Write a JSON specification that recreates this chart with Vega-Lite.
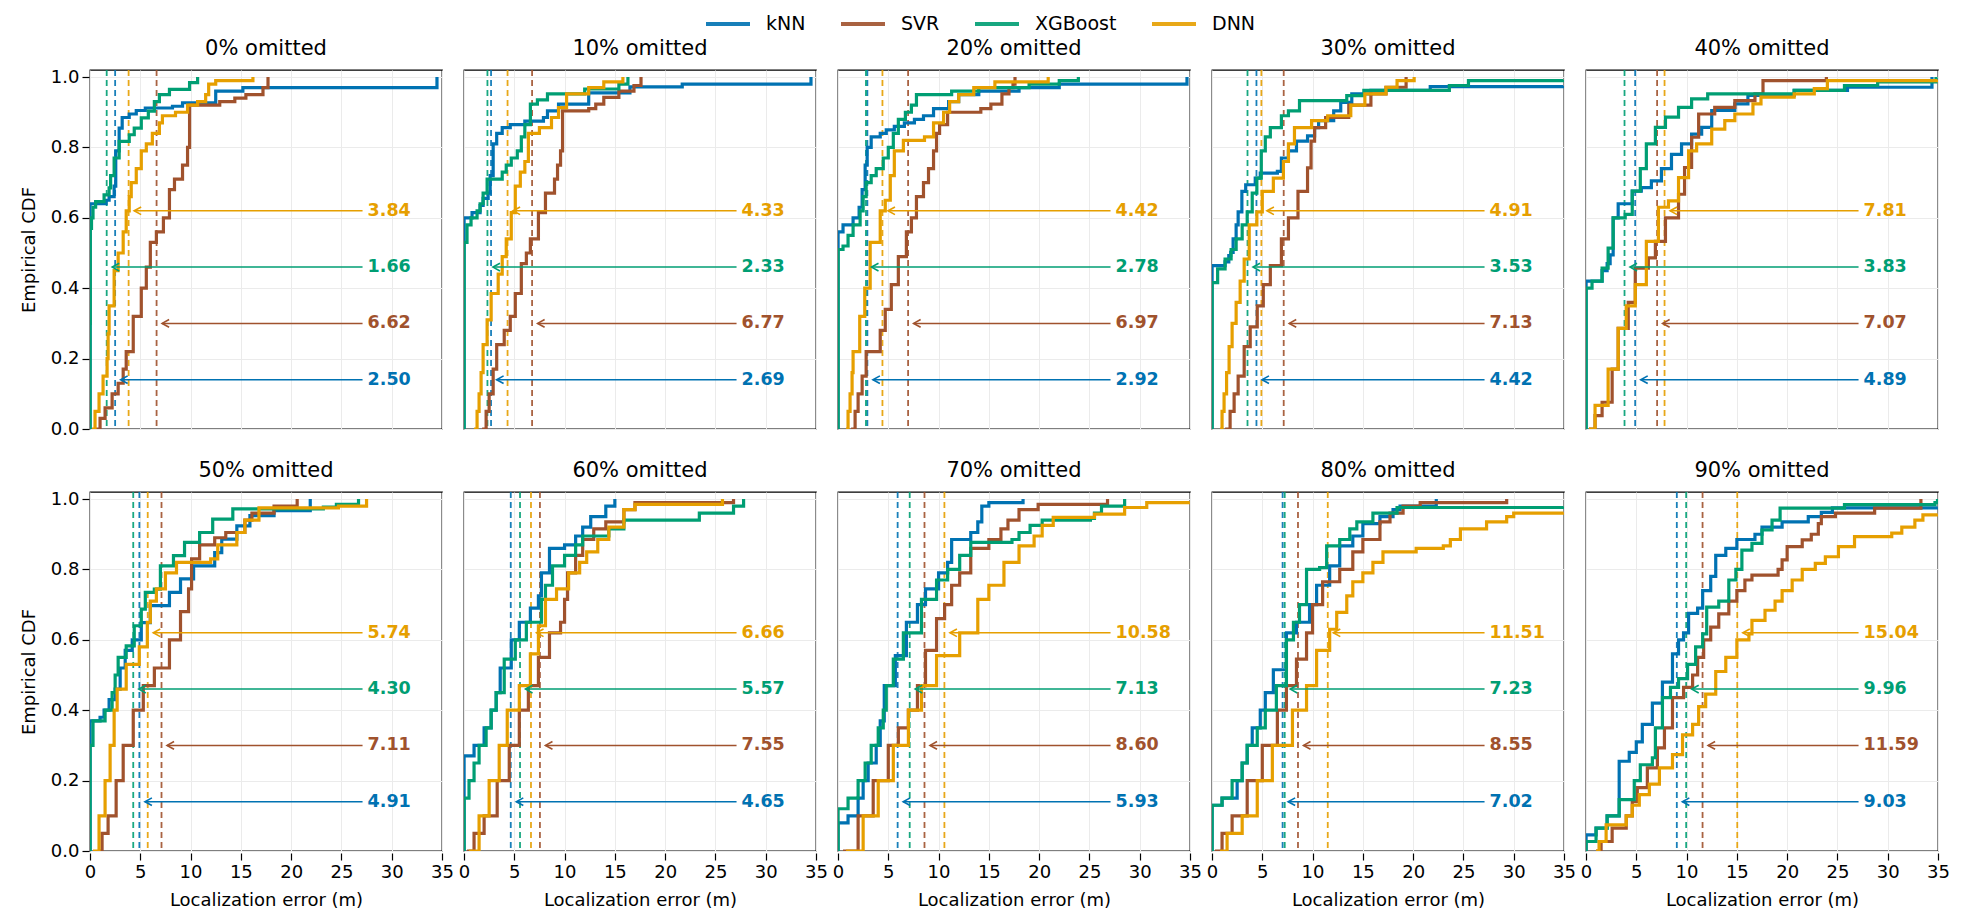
{
  "$schema": "https://vega.github.io/schema/vega-lite/v6.json",
  "padding": {"left": 20, "top": 0, "right": 10, "bottom": 10},
  "data": {
    "values": [
      {"pct":0,"model":"kNN","err":0,"cdf":0},{"pct":0,"model":"kNN","err":0.01,"cdf":0.64},{"pct":0,"model":"kNN","err":1.6,"cdf":0.65},{"pct":0,"model":"kNN","err":1.9,"cdf":0.66},{"pct":0,"model":"kNN","err":2.4,"cdf":0.69},{"pct":0,"model":"kNN","err":2.56,"cdf":0.79},{"pct":0,"model":"kNN","err":2.9,"cdf":0.855},{"pct":0,"model":"kNN","err":3.2,"cdf":0.885},{"pct":0,"model":"kNN","err":3.9,"cdf":0.895},{"pct":0,"model":"kNN","err":4.6,"cdf":0.905},{"pct":0,"model":"kNN","err":5.5,"cdf":0.912},{"pct":0,"model":"kNN","err":8.2,"cdf":0.917},{"pct":0,"model":"kNN","err":9.2,"cdf":0.927},{"pct":0,"model":"kNN","err":12.5,"cdf":0.96},{"pct":0,"model":"kNN","err":15.2,"cdf":0.97},{"pct":0,"model":"kNN","err":34.5,"cdf":1},
      {"pct":0,"model":"SVR","err":0.4,"cdf":0},{"pct":0,"model":"SVR","err":1,"cdf":0.03},{"pct":0,"model":"SVR","err":1.5,"cdf":0.06},{"pct":0,"model":"SVR","err":2.2,"cdf":0.1},{"pct":0,"model":"SVR","err":2.8,"cdf":0.13},{"pct":0,"model":"SVR","err":3.3,"cdf":0.17},{"pct":0,"model":"SVR","err":3.6,"cdf":0.22},{"pct":0,"model":"SVR","err":4.3,"cdf":0.32},{"pct":0,"model":"SVR","err":5.1,"cdf":0.4},{"pct":0,"model":"SVR","err":5.6,"cdf":0.46},{"pct":0,"model":"SVR","err":6,"cdf":0.53},{"pct":0,"model":"SVR","err":6.6,"cdf":0.56},{"pct":0,"model":"SVR","err":7.3,"cdf":0.6},{"pct":0,"model":"SVR","err":7.9,"cdf":0.68},{"pct":0,"model":"SVR","err":8.4,"cdf":0.71},{"pct":0,"model":"SVR","err":9.2,"cdf":0.75},{"pct":0,"model":"SVR","err":9.7,"cdf":0.8},{"pct":0,"model":"SVR","err":9.9,"cdf":0.92},{"pct":0,"model":"SVR","err":12.9,"cdf":0.93},{"pct":0,"model":"SVR","err":14.4,"cdf":0.94},{"pct":0,"model":"SVR","err":15.5,"cdf":0.95},{"pct":0,"model":"SVR","err":17.2,"cdf":0.97},{"pct":0,"model":"SVR","err":17.7,"cdf":1},
      {"pct":0,"model":"XGBoost","err":0,"cdf":0},{"pct":0,"model":"XGBoost","err":0.01,"cdf":0.3},{"pct":0,"model":"XGBoost","err":0.03,"cdf":0.57},{"pct":0,"model":"XGBoost","err":0.15,"cdf":0.6},{"pct":0,"model":"XGBoost","err":0.3,"cdf":0.63},{"pct":0,"model":"XGBoost","err":0.56,"cdf":0.646},{"pct":0,"model":"XGBoost","err":1.4,"cdf":0.665},{"pct":0,"model":"XGBoost","err":1.9,"cdf":0.685},{"pct":0,"model":"XGBoost","err":2.05,"cdf":0.72},{"pct":0,"model":"XGBoost","err":2.4,"cdf":0.77},{"pct":0,"model":"XGBoost","err":2.9,"cdf":0.817},{"pct":0,"model":"XGBoost","err":3.9,"cdf":0.836},{"pct":0,"model":"XGBoost","err":4.4,"cdf":0.855},{"pct":0,"model":"XGBoost","err":5.1,"cdf":0.884},{"pct":0,"model":"XGBoost","err":5.8,"cdf":0.903},{"pct":0,"model":"XGBoost","err":6.4,"cdf":0.93},{"pct":0,"model":"XGBoost","err":6.9,"cdf":0.95},{"pct":0,"model":"XGBoost","err":7.9,"cdf":0.965},{"pct":0,"model":"XGBoost","err":9.9,"cdf":0.984},{"pct":0,"model":"XGBoost","err":10.7,"cdf":1},
      {"pct":0,"model":"DNN","err":0.2,"cdf":0},{"pct":0,"model":"DNN","err":0.5,"cdf":0.05},{"pct":0,"model":"DNN","err":0.9,"cdf":0.1},{"pct":0,"model":"DNN","err":1.3,"cdf":0.15},{"pct":0,"model":"DNN","err":1.7,"cdf":0.2},{"pct":0,"model":"DNN","err":1.8,"cdf":0.27},{"pct":0,"model":"DNN","err":1.9,"cdf":0.35},{"pct":0,"model":"DNN","err":2.4,"cdf":0.45},{"pct":0,"model":"DNN","err":2.8,"cdf":0.5},{"pct":0,"model":"DNN","err":3.3,"cdf":0.56},{"pct":0,"model":"DNN","err":3.6,"cdf":0.62},{"pct":0,"model":"DNN","err":3.9,"cdf":0.66},{"pct":0,"model":"DNN","err":4.1,"cdf":0.7},{"pct":0,"model":"DNN","err":4.6,"cdf":0.74},{"pct":0,"model":"DNN","err":5.1,"cdf":0.79},{"pct":0,"model":"DNN","err":5.6,"cdf":0.81},{"pct":0,"model":"DNN","err":6.2,"cdf":0.84},{"pct":0,"model":"DNN","err":6.9,"cdf":0.87},{"pct":0,"model":"DNN","err":7.2,"cdf":0.89},{"pct":0,"model":"DNN","err":8.5,"cdf":0.9},{"pct":0,"model":"DNN","err":9.7,"cdf":0.92},{"pct":0,"model":"DNN","err":10.7,"cdf":0.93},{"pct":0,"model":"DNN","err":11.5,"cdf":0.95},{"pct":0,"model":"DNN","err":11.8,"cdf":0.98},{"pct":0,"model":"DNN","err":12.5,"cdf":0.99},{"pct":0,"model":"DNN","err":16.2,"cdf":1},

      {"pct":10,"model":"kNN","err":0,"cdf":0},{"pct":10,"model":"kNN","err":0.01,"cdf":0.6},{"pct":10,"model":"kNN","err":0.8,"cdf":0.615},{"pct":10,"model":"kNN","err":1.6,"cdf":0.635},{"pct":10,"model":"kNN","err":1.9,"cdf":0.655},{"pct":10,"model":"kNN","err":2.4,"cdf":0.67},{"pct":10,"model":"kNN","err":2.6,"cdf":0.72},{"pct":10,"model":"kNN","err":2.9,"cdf":0.81},{"pct":10,"model":"kNN","err":3.25,"cdf":0.84},{"pct":10,"model":"kNN","err":3.8,"cdf":0.856},{"pct":10,"model":"kNN","err":4.6,"cdf":0.865},{"pct":10,"model":"kNN","err":6.05,"cdf":0.875},{"pct":10,"model":"kNN","err":7.9,"cdf":0.885},{"pct":10,"model":"kNN","err":8.3,"cdf":0.904},{"pct":10,"model":"kNN","err":9.4,"cdf":0.923},{"pct":10,"model":"kNN","err":12.4,"cdf":0.955},{"pct":10,"model":"kNN","err":16.5,"cdf":0.972},{"pct":10,"model":"kNN","err":21.7,"cdf":0.98},{"pct":10,"model":"kNN","err":34.5,"cdf":1},
      {"pct":10,"model":"SVR","err":1.8,"cdf":0},{"pct":10,"model":"SVR","err":2.2,"cdf":0.05},{"pct":10,"model":"SVR","err":2.5,"cdf":0.1},{"pct":10,"model":"SVR","err":2.9,"cdf":0.17},{"pct":10,"model":"SVR","err":3.25,"cdf":0.24},{"pct":10,"model":"SVR","err":4,"cdf":0.28},{"pct":10,"model":"SVR","err":4.6,"cdf":0.32},{"pct":10,"model":"SVR","err":5.1,"cdf":0.385},{"pct":10,"model":"SVR","err":5.7,"cdf":0.47},{"pct":10,"model":"SVR","err":6.2,"cdf":0.5},{"pct":10,"model":"SVR","err":6.6,"cdf":0.54},{"pct":10,"model":"SVR","err":7.4,"cdf":0.615},{"pct":10,"model":"SVR","err":8.1,"cdf":0.67},{"pct":10,"model":"SVR","err":9,"cdf":0.71},{"pct":10,"model":"SVR","err":9.3,"cdf":0.75},{"pct":10,"model":"SVR","err":9.6,"cdf":0.79},{"pct":10,"model":"SVR","err":9.8,"cdf":0.904},{"pct":10,"model":"SVR","err":12.4,"cdf":0.91},{"pct":10,"model":"SVR","err":13.1,"cdf":0.923},{"pct":10,"model":"SVR","err":13.9,"cdf":0.942},{"pct":10,"model":"SVR","err":15.4,"cdf":0.96},{"pct":10,"model":"SVR","err":16.9,"cdf":0.976},{"pct":10,"model":"SVR","err":17.6,"cdf":1},
      {"pct":10,"model":"XGBoost","err":0,"cdf":0},{"pct":10,"model":"XGBoost","err":0.01,"cdf":0.53},{"pct":10,"model":"XGBoost","err":0.3,"cdf":0.58},{"pct":10,"model":"XGBoost","err":0.7,"cdf":0.6},{"pct":10,"model":"XGBoost","err":1.3,"cdf":0.62},{"pct":10,"model":"XGBoost","err":1.6,"cdf":0.64},{"pct":10,"model":"XGBoost","err":1.9,"cdf":0.67},{"pct":10,"model":"XGBoost","err":2.3,"cdf":0.71},{"pct":10,"model":"XGBoost","err":3.8,"cdf":0.73},{"pct":10,"model":"XGBoost","err":4.2,"cdf":0.75},{"pct":10,"model":"XGBoost","err":4.7,"cdf":0.77},{"pct":10,"model":"XGBoost","err":5.3,"cdf":0.79},{"pct":10,"model":"XGBoost","err":5.7,"cdf":0.83},{"pct":10,"model":"XGBoost","err":6.05,"cdf":0.865},{"pct":10,"model":"XGBoost","err":6.6,"cdf":0.923},{"pct":10,"model":"XGBoost","err":7.3,"cdf":0.935},{"pct":10,"model":"XGBoost","err":8.3,"cdf":0.952},{"pct":10,"model":"XGBoost","err":12,"cdf":0.966},{"pct":10,"model":"XGBoost","err":15.4,"cdf":0.98},{"pct":10,"model":"XGBoost","err":16.3,"cdf":1},
      {"pct":10,"model":"DNN","err":1,"cdf":0},{"pct":10,"model":"DNN","err":1.3,"cdf":0.05},{"pct":10,"model":"DNN","err":1.5,"cdf":0.1},{"pct":10,"model":"DNN","err":1.7,"cdf":0.16},{"pct":10,"model":"DNN","err":1.9,"cdf":0.24},{"pct":10,"model":"DNN","err":2.3,"cdf":0.31},{"pct":10,"model":"DNN","err":2.7,"cdf":0.385},{"pct":10,"model":"DNN","err":3.4,"cdf":0.44},{"pct":10,"model":"DNN","err":3.8,"cdf":0.49},{"pct":10,"model":"DNN","err":4.2,"cdf":0.54},{"pct":10,"model":"DNN","err":4.7,"cdf":0.615},{"pct":10,"model":"DNN","err":5.1,"cdf":0.69},{"pct":10,"model":"DNN","err":5.6,"cdf":0.73},{"pct":10,"model":"DNN","err":6.05,"cdf":0.76},{"pct":10,"model":"DNN","err":6.4,"cdf":0.84},{"pct":10,"model":"DNN","err":7.5,"cdf":0.856},{"pct":10,"model":"DNN","err":8.7,"cdf":0.885},{"pct":10,"model":"DNN","err":9.4,"cdf":0.913},{"pct":10,"model":"DNN","err":10.2,"cdf":0.952},{"pct":10,"model":"DNN","err":12.4,"cdf":0.97},{"pct":10,"model":"DNN","err":13.9,"cdf":0.986},{"pct":10,"model":"DNN","err":15.8,"cdf":1},

      {"pct":20,"model":"kNN","err":0,"cdf":0},{"pct":20,"model":"kNN","err":0.01,"cdf":0.56},{"pct":20,"model":"kNN","err":0.5,"cdf":0.58},{"pct":20,"model":"kNN","err":1.5,"cdf":0.6},{"pct":20,"model":"kNN","err":2.1,"cdf":0.63},{"pct":20,"model":"kNN","err":2.4,"cdf":0.68},{"pct":20,"model":"kNN","err":2.7,"cdf":0.75},{"pct":20,"model":"kNN","err":2.9,"cdf":0.8},{"pct":20,"model":"kNN","err":3.3,"cdf":0.83},{"pct":20,"model":"kNN","err":4.2,"cdf":0.84},{"pct":20,"model":"kNN","err":4.8,"cdf":0.85},{"pct":20,"model":"kNN","err":5.6,"cdf":0.86},{"pct":20,"model":"kNN","err":6.6,"cdf":0.87},{"pct":20,"model":"kNN","err":7.6,"cdf":0.88},{"pct":20,"model":"kNN","err":8.5,"cdf":0.89},{"pct":20,"model":"kNN","err":9.5,"cdf":0.91},{"pct":20,"model":"kNN","err":11,"cdf":0.93},{"pct":20,"model":"kNN","err":12,"cdf":0.95},{"pct":20,"model":"kNN","err":14,"cdf":0.96},{"pct":20,"model":"kNN","err":18,"cdf":0.97},{"pct":20,"model":"kNN","err":22,"cdf":0.98},{"pct":20,"model":"kNN","err":34.7,"cdf":1},
      {"pct":20,"model":"SVR","err":1.3,"cdf":0},{"pct":20,"model":"SVR","err":1.7,"cdf":0.05},{"pct":20,"model":"SVR","err":2,"cdf":0.1},{"pct":20,"model":"SVR","err":2.4,"cdf":0.15},{"pct":20,"model":"SVR","err":2.8,"cdf":0.22},{"pct":20,"model":"SVR","err":4.2,"cdf":0.28},{"pct":20,"model":"SVR","err":4.7,"cdf":0.34},{"pct":20,"model":"SVR","err":5.3,"cdf":0.41},{"pct":20,"model":"SVR","err":6,"cdf":0.49},{"pct":20,"model":"SVR","err":6.8,"cdf":0.56},{"pct":20,"model":"SVR","err":7.3,"cdf":0.6},{"pct":20,"model":"SVR","err":7.8,"cdf":0.66},{"pct":20,"model":"SVR","err":8.5,"cdf":0.7},{"pct":20,"model":"SVR","err":9,"cdf":0.74},{"pct":20,"model":"SVR","err":9.5,"cdf":0.79},{"pct":20,"model":"SVR","err":9.8,"cdf":0.84},{"pct":20,"model":"SVR","err":10.1,"cdf":0.865},{"pct":20,"model":"SVR","err":10.9,"cdf":0.9},{"pct":20,"model":"SVR","err":14.2,"cdf":0.91},{"pct":20,"model":"SVR","err":15.2,"cdf":0.923},{"pct":20,"model":"SVR","err":16.3,"cdf":0.952},{"pct":20,"model":"SVR","err":17,"cdf":0.97},{"pct":20,"model":"SVR","err":17.4,"cdf":0.98},{"pct":20,"model":"SVR","err":17.6,"cdf":1},
      {"pct":20,"model":"XGBoost","err":0,"cdf":0},{"pct":20,"model":"XGBoost","err":0.01,"cdf":0.51},{"pct":20,"model":"XGBoost","err":0.5,"cdf":0.52},{"pct":20,"model":"XGBoost","err":1,"cdf":0.55},{"pct":20,"model":"XGBoost","err":1.5,"cdf":0.58},{"pct":20,"model":"XGBoost","err":2.2,"cdf":0.62},{"pct":20,"model":"XGBoost","err":2.5,"cdf":0.66},{"pct":20,"model":"XGBoost","err":2.8,"cdf":0.7},{"pct":20,"model":"XGBoost","err":3.3,"cdf":0.72},{"pct":20,"model":"XGBoost","err":3.8,"cdf":0.74},{"pct":20,"model":"XGBoost","err":4.5,"cdf":0.77},{"pct":20,"model":"XGBoost","err":5,"cdf":0.8},{"pct":20,"model":"XGBoost","err":5.5,"cdf":0.84},{"pct":20,"model":"XGBoost","err":6,"cdf":0.88},{"pct":20,"model":"XGBoost","err":6.7,"cdf":0.9},{"pct":20,"model":"XGBoost","err":7.3,"cdf":0.92},{"pct":20,"model":"XGBoost","err":7.8,"cdf":0.95},{"pct":20,"model":"XGBoost","err":11.3,"cdf":0.96},{"pct":20,"model":"XGBoost","err":14,"cdf":0.97},{"pct":20,"model":"XGBoost","err":19,"cdf":0.98},{"pct":20,"model":"XGBoost","err":22,"cdf":0.99},{"pct":20,"model":"XGBoost","err":23.9,"cdf":1},
      {"pct":20,"model":"DNN","err":0.8,"cdf":0},{"pct":20,"model":"DNN","err":1,"cdf":0.05},{"pct":20,"model":"DNN","err":1.2,"cdf":0.1},{"pct":20,"model":"DNN","err":1.4,"cdf":0.16},{"pct":20,"model":"DNN","err":1.5,"cdf":0.22},{"pct":20,"model":"DNN","err":2.16,"cdf":0.32},{"pct":20,"model":"DNN","err":2.66,"cdf":0.4},{"pct":20,"model":"DNN","err":3.2,"cdf":0.53},{"pct":20,"model":"DNN","err":4.2,"cdf":0.62},{"pct":20,"model":"DNN","err":4.7,"cdf":0.65},{"pct":20,"model":"DNN","err":5.2,"cdf":0.72},{"pct":20,"model":"DNN","err":5.6,"cdf":0.79},{"pct":20,"model":"DNN","err":6.5,"cdf":0.82},{"pct":20,"model":"DNN","err":8.6,"cdf":0.83},{"pct":20,"model":"DNN","err":9.5,"cdf":0.87},{"pct":20,"model":"DNN","err":10.5,"cdf":0.9},{"pct":20,"model":"DNN","err":11.1,"cdf":0.93},{"pct":20,"model":"DNN","err":12,"cdf":0.95},{"pct":20,"model":"DNN","err":13.5,"cdf":0.97},{"pct":20,"model":"DNN","err":15.6,"cdf":0.986},{"pct":20,"model":"DNN","err":20.9,"cdf":1},

      {"pct":30,"model":"kNN","err":0,"cdf":0},{"pct":30,"model":"kNN","err":0.01,"cdf":0.464},{"pct":30,"model":"kNN","err":1.3,"cdf":0.475},{"pct":30,"model":"kNN","err":1.67,"cdf":0.493},{"pct":30,"model":"kNN","err":1.86,"cdf":0.502},{"pct":30,"model":"kNN","err":2.1,"cdf":0.54},{"pct":30,"model":"kNN","err":2.4,"cdf":0.58},{"pct":30,"model":"kNN","err":2.6,"cdf":0.617},{"pct":30,"model":"kNN","err":2.97,"cdf":0.675},{"pct":30,"model":"kNN","err":3.35,"cdf":0.694},{"pct":30,"model":"kNN","err":4.3,"cdf":0.713},{"pct":30,"model":"kNN","err":4.8,"cdf":0.727},{"pct":30,"model":"kNN","err":6.5,"cdf":0.732},{"pct":30,"model":"kNN","err":6.9,"cdf":0.77},{"pct":30,"model":"kNN","err":7.6,"cdf":0.79},{"pct":30,"model":"kNN","err":8.4,"cdf":0.818},{"pct":30,"model":"kNN","err":9.5,"cdf":0.833},{"pct":30,"model":"kNN","err":10.2,"cdf":0.856},{"pct":30,"model":"kNN","err":10.6,"cdf":0.876},{"pct":30,"model":"kNN","err":12.1,"cdf":0.904},{"pct":30,"model":"kNN","err":12.8,"cdf":0.928},{"pct":30,"model":"kNN","err":13.9,"cdf":0.952},{"pct":30,"model":"kNN","err":15.8,"cdf":0.962},{"pct":30,"model":"kNN","err":21.7,"cdf":0.973},{"pct":30,"model":"kNN","err":34.9,"cdf":0.975},
      {"pct":30,"model":"SVR","err":1.3,"cdf":0},{"pct":30,"model":"SVR","err":1.8,"cdf":0.05},{"pct":30,"model":"SVR","err":2.2,"cdf":0.1},{"pct":30,"model":"SVR","err":2.6,"cdf":0.15},{"pct":30,"model":"SVR","err":3.2,"cdf":0.234},{"pct":30,"model":"SVR","err":3.8,"cdf":0.29},{"pct":30,"model":"SVR","err":4.5,"cdf":0.35},{"pct":30,"model":"SVR","err":5.1,"cdf":0.41},{"pct":30,"model":"SVR","err":5.8,"cdf":0.464},{"pct":30,"model":"SVR","err":6.9,"cdf":0.54},{"pct":30,"model":"SVR","err":7.6,"cdf":0.6},{"pct":30,"model":"SVR","err":8.55,"cdf":0.675},{"pct":30,"model":"SVR","err":9.5,"cdf":0.742},{"pct":30,"model":"SVR","err":9.85,"cdf":0.818},{"pct":30,"model":"SVR","err":10.2,"cdf":0.856},{"pct":30,"model":"SVR","err":11.3,"cdf":0.885},{"pct":30,"model":"SVR","err":13.6,"cdf":0.92},{"pct":30,"model":"SVR","err":15.8,"cdf":0.952},{"pct":30,"model":"SVR","err":17.3,"cdf":0.971},{"pct":30,"model":"SVR","err":19.3,"cdf":1},
      {"pct":30,"model":"XGBoost","err":0,"cdf":0},{"pct":30,"model":"XGBoost","err":0.01,"cdf":0.416},{"pct":30,"model":"XGBoost","err":0.56,"cdf":0.455},{"pct":30,"model":"XGBoost","err":1.3,"cdf":0.483},{"pct":30,"model":"XGBoost","err":1.9,"cdf":0.51},{"pct":30,"model":"XGBoost","err":2.4,"cdf":0.54},{"pct":30,"model":"XGBoost","err":3,"cdf":0.58},{"pct":30,"model":"XGBoost","err":3.5,"cdf":0.617},{"pct":30,"model":"XGBoost","err":4,"cdf":0.67},{"pct":30,"model":"XGBoost","err":4.46,"cdf":0.713},{"pct":30,"model":"XGBoost","err":4.9,"cdf":0.79},{"pct":30,"model":"XGBoost","err":5.3,"cdf":0.83},{"pct":30,"model":"XGBoost","err":5.8,"cdf":0.856},{"pct":30,"model":"XGBoost","err":6.9,"cdf":0.89},{"pct":30,"model":"XGBoost","err":7.6,"cdf":0.904},{"pct":30,"model":"XGBoost","err":8.7,"cdf":0.933},{"pct":30,"model":"XGBoost","err":13.4,"cdf":0.947},{"pct":30,"model":"XGBoost","err":15.1,"cdf":0.962},{"pct":30,"model":"XGBoost","err":23.6,"cdf":0.976},{"pct":30,"model":"XGBoost","err":25.5,"cdf":0.99},{"pct":30,"model":"XGBoost","err":34.9,"cdf":0.992},
      {"pct":30,"model":"DNN","err":0.8,"cdf":0},{"pct":30,"model":"DNN","err":1,"cdf":0.05},{"pct":30,"model":"DNN","err":1.2,"cdf":0.1},{"pct":30,"model":"DNN","err":1.45,"cdf":0.16},{"pct":30,"model":"DNN","err":1.7,"cdf":0.234},{"pct":30,"model":"DNN","err":2,"cdf":0.3},{"pct":30,"model":"DNN","err":2.4,"cdf":0.36},{"pct":30,"model":"DNN","err":2.8,"cdf":0.42},{"pct":30,"model":"DNN","err":3.2,"cdf":0.483},{"pct":30,"model":"DNN","err":3.7,"cdf":0.58},{"pct":30,"model":"DNN","err":4.46,"cdf":0.617},{"pct":30,"model":"DNN","err":5,"cdf":0.675},{"pct":30,"model":"DNN","err":6.1,"cdf":0.713},{"pct":30,"model":"DNN","err":7.1,"cdf":0.76},{"pct":30,"model":"DNN","err":7.6,"cdf":0.81},{"pct":30,"model":"DNN","err":8.2,"cdf":0.856},{"pct":30,"model":"DNN","err":9.9,"cdf":0.876},{"pct":30,"model":"DNN","err":11.5,"cdf":0.89},{"pct":30,"model":"DNN","err":13.8,"cdf":0.92},{"pct":30,"model":"DNN","err":15.2,"cdf":0.952},{"pct":30,"model":"DNN","err":17.3,"cdf":0.971},{"pct":30,"model":"DNN","err":18.4,"cdf":0.99},{"pct":30,"model":"DNN","err":20.1,"cdf":1},

      {"pct":40,"model":"kNN","err":0,"cdf":0},{"pct":40,"model":"kNN","err":0.01,"cdf":0.42},{"pct":40,"model":"kNN","err":1.6,"cdf":0.45},{"pct":40,"model":"kNN","err":2.1,"cdf":0.47},{"pct":40,"model":"kNN","err":2.4,"cdf":0.495},{"pct":40,"model":"kNN","err":2.7,"cdf":0.6},{"pct":40,"model":"kNN","err":3.2,"cdf":0.64},{"pct":40,"model":"kNN","err":4.6,"cdf":0.676},{"pct":40,"model":"kNN","err":5.5,"cdf":0.686},{"pct":40,"model":"kNN","err":6.5,"cdf":0.705},{"pct":40,"model":"kNN","err":7.5,"cdf":0.74},{"pct":40,"model":"kNN","err":8.5,"cdf":0.78},{"pct":40,"model":"kNN","err":9.5,"cdf":0.81},{"pct":40,"model":"kNN","err":10.5,"cdf":0.838},{"pct":40,"model":"kNN","err":11.5,"cdf":0.857},{"pct":40,"model":"kNN","err":12.5,"cdf":0.905},{"pct":40,"model":"kNN","err":14.8,"cdf":0.924},{"pct":40,"model":"kNN","err":16.1,"cdf":0.948},{"pct":40,"model":"kNN","err":20.7,"cdf":0.962},{"pct":40,"model":"kNN","err":26,"cdf":0.971},{"pct":40,"model":"kNN","err":34.4,"cdf":1},
      {"pct":40,"model":"SVR","err":0.3,"cdf":0},{"pct":40,"model":"SVR","err":0.9,"cdf":0.038},{"pct":40,"model":"SVR","err":1.6,"cdf":0.076},{"pct":40,"model":"SVR","err":2.6,"cdf":0.17},{"pct":40,"model":"SVR","err":3.2,"cdf":0.286},{"pct":40,"model":"SVR","err":4.2,"cdf":0.36},{"pct":40,"model":"SVR","err":4.9,"cdf":0.457},{"pct":40,"model":"SVR","err":6.2,"cdf":0.486},{"pct":40,"model":"SVR","err":6.9,"cdf":0.533},{"pct":40,"model":"SVR","err":7.9,"cdf":0.6},{"pct":40,"model":"SVR","err":9.2,"cdf":0.667},{"pct":40,"model":"SVR","err":9.8,"cdf":0.743},{"pct":40,"model":"SVR","err":10.5,"cdf":0.829},{"pct":40,"model":"SVR","err":11.2,"cdf":0.895},{"pct":40,"model":"SVR","err":12.8,"cdf":0.914},{"pct":40,"model":"SVR","err":14.8,"cdf":0.933},{"pct":40,"model":"SVR","err":16.8,"cdf":0.952},{"pct":40,"model":"SVR","err":17.6,"cdf":0.99},{"pct":40,"model":"SVR","err":23.9,"cdf":1},
      {"pct":40,"model":"XGBoost","err":0,"cdf":0},{"pct":40,"model":"XGBoost","err":0.01,"cdf":0.4},{"pct":40,"model":"XGBoost","err":0.6,"cdf":0.42},{"pct":40,"model":"XGBoost","err":1.6,"cdf":0.457},{"pct":40,"model":"XGBoost","err":2.2,"cdf":0.514},{"pct":40,"model":"XGBoost","err":2.7,"cdf":0.6},{"pct":40,"model":"XGBoost","err":3.9,"cdf":0.61},{"pct":40,"model":"XGBoost","err":4.6,"cdf":0.676},{"pct":40,"model":"XGBoost","err":5.4,"cdf":0.74},{"pct":40,"model":"XGBoost","err":6,"cdf":0.81},{"pct":40,"model":"XGBoost","err":6.9,"cdf":0.857},{"pct":40,"model":"XGBoost","err":7.9,"cdf":0.886},{"pct":40,"model":"XGBoost","err":9.2,"cdf":0.914},{"pct":40,"model":"XGBoost","err":10.5,"cdf":0.938},{"pct":40,"model":"XGBoost","err":12.1,"cdf":0.952},{"pct":40,"model":"XGBoost","err":20.7,"cdf":0.962},{"pct":40,"model":"XGBoost","err":25.7,"cdf":0.976},{"pct":40,"model":"XGBoost","err":29,"cdf":0.986},{"pct":40,"model":"XGBoost","err":34.8,"cdf":1},
      {"pct":40,"model":"DNN","err":0.3,"cdf":0},{"pct":40,"model":"DNN","err":0.9,"cdf":0.067},{"pct":40,"model":"DNN","err":2.2,"cdf":0.17},{"pct":40,"model":"DNN","err":3.2,"cdf":0.286},{"pct":40,"model":"DNN","err":4,"cdf":0.35},{"pct":40,"model":"DNN","err":4.9,"cdf":0.41},{"pct":40,"model":"DNN","err":6,"cdf":0.533},{"pct":40,"model":"DNN","err":7.2,"cdf":0.63},{"pct":40,"model":"DNN","err":8.2,"cdf":0.648},{"pct":40,"model":"DNN","err":9.2,"cdf":0.714},{"pct":40,"model":"DNN","err":10.2,"cdf":0.79},{"pct":40,"model":"DNN","err":11,"cdf":0.81},{"pct":40,"model":"DNN","err":12.5,"cdf":0.852},{"pct":40,"model":"DNN","err":13.8,"cdf":0.876},{"pct":40,"model":"DNN","err":14.8,"cdf":0.895},{"pct":40,"model":"DNN","err":16.6,"cdf":0.924},{"pct":40,"model":"DNN","err":17.4,"cdf":0.943},{"pct":40,"model":"DNN","err":20.7,"cdf":0.952},{"pct":40,"model":"DNN","err":22.7,"cdf":0.967},{"pct":40,"model":"DNN","err":24,"cdf":0.99},{"pct":40,"model":"DNN","err":34.9,"cdf":0.992},

      {"pct":50,"model":"kNN","err":0,"cdf":0},{"pct":50,"model":"kNN","err":0.01,"cdf":0.37},{"pct":50,"model":"kNN","err":1,"cdf":0.38},{"pct":50,"model":"kNN","err":1.4,"cdf":0.4},{"pct":50,"model":"kNN","err":1.9,"cdf":0.43},{"pct":50,"model":"kNN","err":2.5,"cdf":0.46},{"pct":50,"model":"kNN","err":3,"cdf":0.52},{"pct":50,"model":"kNN","err":3.5,"cdf":0.57},{"pct":50,"model":"kNN","err":4.2,"cdf":0.6},{"pct":50,"model":"kNN","err":5.1,"cdf":0.649},{"pct":50,"model":"kNN","err":6,"cdf":0.697},{"pct":50,"model":"kNN","err":7.9,"cdf":0.735},{"pct":50,"model":"kNN","err":9,"cdf":0.773},{"pct":50,"model":"kNN","err":10.3,"cdf":0.81},{"pct":50,"model":"kNN","err":12.4,"cdf":0.848},{"pct":50,"model":"kNN","err":13.1,"cdf":0.886},{"pct":50,"model":"kNN","err":14.6,"cdf":0.924},{"pct":50,"model":"kNN","err":15.9,"cdf":0.953},{"pct":50,"model":"kNN","err":18.3,"cdf":0.967},{"pct":50,"model":"kNN","err":21.9,"cdf":1},
      {"pct":50,"model":"SVR","err":0.8,"cdf":0},{"pct":50,"model":"SVR","err":1.2,"cdf":0.05},{"pct":50,"model":"SVR","err":1.8,"cdf":0.1},{"pct":50,"model":"SVR","err":2.6,"cdf":0.2},{"pct":50,"model":"SVR","err":3.3,"cdf":0.3},{"pct":50,"model":"SVR","err":4.3,"cdf":0.4},{"pct":50,"model":"SVR","err":5.3,"cdf":0.47},{"pct":50,"model":"SVR","err":6.4,"cdf":0.52},{"pct":50,"model":"SVR","err":7.9,"cdf":0.6},{"pct":50,"model":"SVR","err":9,"cdf":0.68},{"pct":50,"model":"SVR","err":9.8,"cdf":0.745},{"pct":50,"model":"SVR","err":10.1,"cdf":0.83},{"pct":50,"model":"SVR","err":10.9,"cdf":0.87},{"pct":50,"model":"SVR","err":12.4,"cdf":0.89},{"pct":50,"model":"SVR","err":13.5,"cdf":0.905},{"pct":50,"model":"SVR","err":15.4,"cdf":0.94},{"pct":50,"model":"SVR","err":16.1,"cdf":0.96},{"pct":50,"model":"SVR","err":18.3,"cdf":0.98},{"pct":50,"model":"SVR","err":20.6,"cdf":1},
      {"pct":50,"model":"XGBoost","err":0,"cdf":0},{"pct":50,"model":"XGBoost","err":0.01,"cdf":0.3},{"pct":50,"model":"XGBoost","err":0.3,"cdf":0.37},{"pct":50,"model":"XGBoost","err":1.5,"cdf":0.4},{"pct":50,"model":"XGBoost","err":2.2,"cdf":0.45},{"pct":50,"model":"XGBoost","err":2.5,"cdf":0.5},{"pct":50,"model":"XGBoost","err":2.8,"cdf":0.55},{"pct":50,"model":"XGBoost","err":3.6,"cdf":0.583},{"pct":50,"model":"XGBoost","err":4.4,"cdf":0.64},{"pct":50,"model":"XGBoost","err":5.1,"cdf":0.687},{"pct":50,"model":"XGBoost","err":5.5,"cdf":0.735},{"pct":50,"model":"XGBoost","err":6.4,"cdf":0.744},{"pct":50,"model":"XGBoost","err":7,"cdf":0.81},{"pct":50,"model":"XGBoost","err":8.3,"cdf":0.839},{"pct":50,"model":"XGBoost","err":9.4,"cdf":0.877},{"pct":50,"model":"XGBoost","err":10.9,"cdf":0.905},{"pct":50,"model":"XGBoost","err":12.2,"cdf":0.943},{"pct":50,"model":"XGBoost","err":14.2,"cdf":0.972},{"pct":50,"model":"XGBoost","err":23.2,"cdf":0.977},{"pct":50,"model":"XGBoost","err":24.5,"cdf":0.985},{"pct":50,"model":"XGBoost","err":26.7,"cdf":1},
      {"pct":50,"model":"DNN","err":0.3,"cdf":0},{"pct":50,"model":"DNN","err":0.9,"cdf":0.1},{"pct":50,"model":"DNN","err":1.5,"cdf":0.2},{"pct":50,"model":"DNN","err":2,"cdf":0.3},{"pct":50,"model":"DNN","err":2.4,"cdf":0.4},{"pct":50,"model":"DNN","err":2.7,"cdf":0.46},{"pct":50,"model":"DNN","err":3.6,"cdf":0.53},{"pct":50,"model":"DNN","err":4.9,"cdf":0.58},{"pct":50,"model":"DNN","err":5.7,"cdf":0.65},{"pct":50,"model":"DNN","err":6,"cdf":0.71},{"pct":50,"model":"DNN","err":6.6,"cdf":0.745},{"pct":50,"model":"DNN","err":7.5,"cdf":0.79},{"pct":50,"model":"DNN","err":8.6,"cdf":0.82},{"pct":50,"model":"DNN","err":12,"cdf":0.83},{"pct":50,"model":"DNN","err":12.7,"cdf":0.87},{"pct":50,"model":"DNN","err":14.6,"cdf":0.905},{"pct":50,"model":"DNN","err":15.4,"cdf":0.94},{"pct":50,"model":"DNN","err":16.8,"cdf":0.975},{"pct":50,"model":"DNN","err":24.7,"cdf":0.98},{"pct":50,"model":"DNN","err":27.5,"cdf":1},

      {"pct":60,"model":"kNN","err":0,"cdf":0},{"pct":60,"model":"kNN","err":0.01,"cdf":0.27},{"pct":60,"model":"kNN","err":1,"cdf":0.3},{"pct":60,"model":"kNN","err":2,"cdf":0.35},{"pct":60,"model":"kNN","err":2.7,"cdf":0.4},{"pct":60,"model":"kNN","err":3.2,"cdf":0.45},{"pct":60,"model":"kNN","err":3.6,"cdf":0.52},{"pct":60,"model":"kNN","err":4.7,"cdf":0.6},{"pct":60,"model":"kNN","err":5.5,"cdf":0.65},{"pct":60,"model":"kNN","err":6.6,"cdf":0.69},{"pct":60,"model":"kNN","err":7.4,"cdf":0.725},{"pct":60,"model":"kNN","err":7.7,"cdf":0.79},{"pct":60,"model":"kNN","err":8.5,"cdf":0.86},{"pct":60,"model":"kNN","err":10,"cdf":0.87},{"pct":60,"model":"kNN","err":11.1,"cdf":0.895},{"pct":60,"model":"kNN","err":11.8,"cdf":0.92},{"pct":60,"model":"kNN","err":12.6,"cdf":0.95},{"pct":60,"model":"kNN","err":14.1,"cdf":0.98},{"pct":60,"model":"kNN","err":15,"cdf":1},
      {"pct":60,"model":"SVR","err":0.3,"cdf":0},{"pct":60,"model":"SVR","err":1,"cdf":0.05},{"pct":60,"model":"SVR","err":2,"cdf":0.1},{"pct":60,"model":"SVR","err":3.3,"cdf":0.2},{"pct":60,"model":"SVR","err":4.5,"cdf":0.3},{"pct":60,"model":"SVR","err":5.5,"cdf":0.4},{"pct":60,"model":"SVR","err":6.4,"cdf":0.47},{"pct":60,"model":"SVR","err":7.4,"cdf":0.55},{"pct":60,"model":"SVR","err":8.5,"cdf":0.62},{"pct":60,"model":"SVR","err":9.6,"cdf":0.65},{"pct":60,"model":"SVR","err":10,"cdf":0.715},{"pct":60,"model":"SVR","err":10.3,"cdf":0.79},{"pct":60,"model":"SVR","err":11.1,"cdf":0.84},{"pct":60,"model":"SVR","err":11.8,"cdf":0.885},{"pct":60,"model":"SVR","err":12.9,"cdf":0.915},{"pct":60,"model":"SVR","err":14.1,"cdf":0.935},{"pct":60,"model":"SVR","err":15.9,"cdf":0.97},{"pct":60,"model":"SVR","err":17,"cdf":0.99},{"pct":60,"model":"SVR","err":26.8,"cdf":1},
      {"pct":60,"model":"XGBoost","err":0,"cdf":0},{"pct":60,"model":"XGBoost","err":0.01,"cdf":0.15},{"pct":60,"model":"XGBoost","err":0.5,"cdf":0.2},{"pct":60,"model":"XGBoost","err":1,"cdf":0.25},{"pct":60,"model":"XGBoost","err":1.5,"cdf":0.3},{"pct":60,"model":"XGBoost","err":2.2,"cdf":0.35},{"pct":60,"model":"XGBoost","err":2.7,"cdf":0.4},{"pct":60,"model":"XGBoost","err":3.2,"cdf":0.45},{"pct":60,"model":"XGBoost","err":4,"cdf":0.545},{"pct":60,"model":"XGBoost","err":5.1,"cdf":0.6},{"pct":60,"model":"XGBoost","err":6.2,"cdf":0.65},{"pct":60,"model":"XGBoost","err":7.7,"cdf":0.715},{"pct":60,"model":"XGBoost","err":8.1,"cdf":0.755},{"pct":60,"model":"XGBoost","err":8.8,"cdf":0.81},{"pct":60,"model":"XGBoost","err":10,"cdf":0.84},{"pct":60,"model":"XGBoost","err":11.1,"cdf":0.87},{"pct":60,"model":"XGBoost","err":11.8,"cdf":0.895},{"pct":60,"model":"XGBoost","err":14.4,"cdf":0.915},{"pct":60,"model":"XGBoost","err":15.9,"cdf":0.94},{"pct":60,"model":"XGBoost","err":23.4,"cdf":0.96},{"pct":60,"model":"XGBoost","err":26.8,"cdf":0.98},{"pct":60,"model":"XGBoost","err":27.8,"cdf":1},
      {"pct":60,"model":"DNN","err":0.5,"cdf":0},{"pct":60,"model":"DNN","err":1.5,"cdf":0.1},{"pct":60,"model":"DNN","err":2.5,"cdf":0.2},{"pct":60,"model":"DNN","err":3.5,"cdf":0.3},{"pct":60,"model":"DNN","err":4.3,"cdf":0.4},{"pct":60,"model":"DNN","err":5.5,"cdf":0.47},{"pct":60,"model":"DNN","err":6.6,"cdf":0.56},{"pct":60,"model":"DNN","err":7.4,"cdf":0.64},{"pct":60,"model":"DNN","err":8.1,"cdf":0.715},{"pct":60,"model":"DNN","err":9.2,"cdf":0.745},{"pct":60,"model":"DNN","err":10.4,"cdf":0.79},{"pct":60,"model":"DNN","err":11.5,"cdf":0.82},{"pct":60,"model":"DNN","err":12.2,"cdf":0.85},{"pct":60,"model":"DNN","err":13.3,"cdf":0.885},{"pct":60,"model":"DNN","err":14.4,"cdf":0.92},{"pct":60,"model":"DNN","err":15.9,"cdf":0.97},{"pct":60,"model":"DNN","err":17,"cdf":0.985},{"pct":60,"model":"DNN","err":25.7,"cdf":1},

      {"pct":70,"model":"kNN","err":0,"cdf":0},{"pct":70,"model":"kNN","err":0.01,"cdf":0.08},{"pct":70,"model":"kNN","err":1,"cdf":0.1},{"pct":70,"model":"kNN","err":2,"cdf":0.15},{"pct":70,"model":"kNN","err":2.5,"cdf":0.2},{"pct":70,"model":"kNN","err":3,"cdf":0.25},{"pct":70,"model":"kNN","err":3.8,"cdf":0.3},{"pct":70,"model":"kNN","err":4.2,"cdf":0.37},{"pct":70,"model":"kNN","err":4.6,"cdf":0.47},{"pct":70,"model":"kNN","err":5.7,"cdf":0.555},{"pct":70,"model":"kNN","err":6.8,"cdf":0.65},{"pct":70,"model":"kNN","err":7.9,"cdf":0.7},{"pct":70,"model":"kNN","err":8.7,"cdf":0.745},{"pct":70,"model":"kNN","err":10,"cdf":0.79},{"pct":70,"model":"kNN","err":10.9,"cdf":0.82},{"pct":70,"model":"kNN","err":11.3,"cdf":0.885},{"pct":70,"model":"kNN","err":13.2,"cdf":0.905},{"pct":70,"model":"kNN","err":13.9,"cdf":0.935},{"pct":70,"model":"kNN","err":14.3,"cdf":0.98},{"pct":70,"model":"kNN","err":15,"cdf":0.99},{"pct":70,"model":"kNN","err":18.4,"cdf":1},
      {"pct":70,"model":"SVR","err":0.5,"cdf":0},{"pct":70,"model":"SVR","err":2,"cdf":0.1},{"pct":70,"model":"SVR","err":3.5,"cdf":0.2},{"pct":70,"model":"SVR","err":5,"cdf":0.3},{"pct":70,"model":"SVR","err":6,"cdf":0.35},{"pct":70,"model":"SVR","err":7,"cdf":0.4},{"pct":70,"model":"SVR","err":7.9,"cdf":0.47},{"pct":70,"model":"SVR","err":8.7,"cdf":0.57},{"pct":70,"model":"SVR","err":9.8,"cdf":0.66},{"pct":70,"model":"SVR","err":10.6,"cdf":0.7},{"pct":70,"model":"SVR","err":11.3,"cdf":0.755},{"pct":70,"model":"SVR","err":12.1,"cdf":0.79},{"pct":70,"model":"SVR","err":13.2,"cdf":0.86},{"pct":70,"model":"SVR","err":15,"cdf":0.885},{"pct":70,"model":"SVR","err":16.2,"cdf":0.915},{"pct":70,"model":"SVR","err":16.9,"cdf":0.94},{"pct":70,"model":"SVR","err":18,"cdf":0.97},{"pct":70,"model":"SVR","err":19.9,"cdf":0.985},{"pct":70,"model":"SVR","err":26.8,"cdf":1},
      {"pct":70,"model":"XGBoost","err":0,"cdf":0},{"pct":70,"model":"XGBoost","err":0.01,"cdf":0.12},{"pct":70,"model":"XGBoost","err":1,"cdf":0.15},{"pct":70,"model":"XGBoost","err":2,"cdf":0.2},{"pct":70,"model":"XGBoost","err":2.7,"cdf":0.25},{"pct":70,"model":"XGBoost","err":3.3,"cdf":0.3},{"pct":70,"model":"XGBoost","err":4,"cdf":0.35},{"pct":70,"model":"XGBoost","err":4.5,"cdf":0.4},{"pct":70,"model":"XGBoost","err":4.8,"cdf":0.47},{"pct":70,"model":"XGBoost","err":5.5,"cdf":0.545},{"pct":70,"model":"XGBoost","err":6.5,"cdf":0.62},{"pct":70,"model":"XGBoost","err":8.3,"cdf":0.715},{"pct":70,"model":"XGBoost","err":9.8,"cdf":0.77},{"pct":70,"model":"XGBoost","err":10.9,"cdf":0.8},{"pct":70,"model":"XGBoost","err":12.1,"cdf":0.84},{"pct":70,"model":"XGBoost","err":13.2,"cdf":0.877},{"pct":70,"model":"XGBoost","err":17.3,"cdf":0.885},{"pct":70,"model":"XGBoost","err":18,"cdf":0.905},{"pct":70,"model":"XGBoost","err":19.1,"cdf":0.925},{"pct":70,"model":"XGBoost","err":20.3,"cdf":0.94},{"pct":70,"model":"XGBoost","err":25.1,"cdf":0.945},{"pct":70,"model":"XGBoost","err":25.5,"cdf":0.96},{"pct":70,"model":"XGBoost","err":26.2,"cdf":0.98},{"pct":70,"model":"XGBoost","err":28.5,"cdf":1},
      {"pct":70,"model":"DNN","err":0.8,"cdf":0},{"pct":70,"model":"DNN","err":2.5,"cdf":0.1},{"pct":70,"model":"DNN","err":4,"cdf":0.2},{"pct":70,"model":"DNN","err":5.5,"cdf":0.3},{"pct":70,"model":"DNN","err":7,"cdf":0.4},{"pct":70,"model":"DNN","err":8.3,"cdf":0.47},{"pct":70,"model":"DNN","err":9.8,"cdf":0.555},{"pct":70,"model":"DNN","err":12.1,"cdf":0.62},{"pct":70,"model":"DNN","err":13.9,"cdf":0.715},{"pct":70,"model":"DNN","err":15,"cdf":0.755},{"pct":70,"model":"DNN","err":16.5,"cdf":0.82},{"pct":70,"model":"DNN","err":18,"cdf":0.867},{"pct":70,"model":"DNN","err":19.5,"cdf":0.895},{"pct":70,"model":"DNN","err":20.3,"cdf":0.925},{"pct":70,"model":"DNN","err":21.4,"cdf":0.948},{"pct":70,"model":"DNN","err":25.5,"cdf":0.957},{"pct":70,"model":"DNN","err":28.5,"cdf":0.976},{"pct":70,"model":"DNN","err":30.7,"cdf":0.99},{"pct":70,"model":"DNN","err":34.95,"cdf":0.992},

      {"pct":80,"model":"kNN","err":0,"cdf":0},{"pct":80,"model":"kNN","err":0.01,"cdf":0.13},{"pct":80,"model":"kNN","err":1,"cdf":0.15},{"pct":80,"model":"kNN","err":2.5,"cdf":0.2},{"pct":80,"model":"kNN","err":3,"cdf":0.25},{"pct":80,"model":"kNN","err":3.5,"cdf":0.3},{"pct":80,"model":"kNN","err":4,"cdf":0.35},{"pct":80,"model":"kNN","err":4.8,"cdf":0.4},{"pct":80,"model":"kNN","err":5.3,"cdf":0.45},{"pct":80,"model":"kNN","err":6.1,"cdf":0.515},{"pct":80,"model":"kNN","err":7.4,"cdf":0.62},{"pct":80,"model":"kNN","err":8.4,"cdf":0.65},{"pct":80,"model":"kNN","err":9.7,"cdf":0.7},{"pct":80,"model":"kNN","err":10.4,"cdf":0.755},{"pct":80,"model":"kNN","err":11.7,"cdf":0.81},{"pct":80,"model":"kNN","err":12.7,"cdf":0.867},{"pct":80,"model":"kNN","err":14,"cdf":0.895},{"pct":80,"model":"kNN","err":15,"cdf":0.93},{"pct":80,"model":"kNN","err":16.7,"cdf":0.95},{"pct":80,"model":"kNN","err":18,"cdf":0.97},{"pct":80,"model":"kNN","err":18.7,"cdf":0.98},{"pct":80,"model":"kNN","err":22.3,"cdf":1},
      {"pct":80,"model":"SVR","err":0.3,"cdf":0},{"pct":80,"model":"SVR","err":1,"cdf":0.05},{"pct":80,"model":"SVR","err":2,"cdf":0.1},{"pct":80,"model":"SVR","err":3.5,"cdf":0.2},{"pct":80,"model":"SVR","err":5,"cdf":0.3},{"pct":80,"model":"SVR","err":6.5,"cdf":0.4},{"pct":80,"model":"SVR","err":7.4,"cdf":0.47},{"pct":80,"model":"SVR","err":8.4,"cdf":0.545},{"pct":80,"model":"SVR","err":9.4,"cdf":0.62},{"pct":80,"model":"SVR","err":10,"cdf":0.7},{"pct":80,"model":"SVR","err":11,"cdf":0.765},{"pct":80,"model":"SVR","err":12.7,"cdf":0.8},{"pct":80,"model":"SVR","err":14,"cdf":0.85},{"pct":80,"model":"SVR","err":15,"cdf":0.885},{"pct":80,"model":"SVR","err":16.7,"cdf":0.935},{"pct":80,"model":"SVR","err":17.7,"cdf":0.96},{"pct":80,"model":"SVR","err":19,"cdf":0.98},{"pct":80,"model":"SVR","err":20.7,"cdf":0.99},{"pct":80,"model":"SVR","err":29.3,"cdf":1},
      {"pct":80,"model":"XGBoost","err":0,"cdf":0},{"pct":80,"model":"XGBoost","err":0.01,"cdf":0.13},{"pct":80,"model":"XGBoost","err":1,"cdf":0.15},{"pct":80,"model":"XGBoost","err":2,"cdf":0.2},{"pct":80,"model":"XGBoost","err":3,"cdf":0.25},{"pct":80,"model":"XGBoost","err":3.5,"cdf":0.3},{"pct":80,"model":"XGBoost","err":4.5,"cdf":0.35},{"pct":80,"model":"XGBoost","err":5.3,"cdf":0.4},{"pct":80,"model":"XGBoost","err":6.4,"cdf":0.47},{"pct":80,"model":"XGBoost","err":7.4,"cdf":0.6},{"pct":80,"model":"XGBoost","err":8.1,"cdf":0.65},{"pct":80,"model":"XGBoost","err":8.7,"cdf":0.7},{"pct":80,"model":"XGBoost","err":9.4,"cdf":0.8},{"pct":80,"model":"XGBoost","err":10.7,"cdf":0.805},{"pct":80,"model":"XGBoost","err":11.4,"cdf":0.867},{"pct":80,"model":"XGBoost","err":12.7,"cdf":0.885},{"pct":80,"model":"XGBoost","err":13.7,"cdf":0.915},{"pct":80,"model":"XGBoost","err":14.4,"cdf":0.935},{"pct":80,"model":"XGBoost","err":16,"cdf":0.96},{"pct":80,"model":"XGBoost","err":18.4,"cdf":0.976},{"pct":80,"model":"XGBoost","err":34.95,"cdf":0.978},
      {"pct":80,"model":"DNN","err":0.8,"cdf":0},{"pct":80,"model":"DNN","err":1.5,"cdf":0.05},{"pct":80,"model":"DNN","err":3,"cdf":0.1},{"pct":80,"model":"DNN","err":4.5,"cdf":0.2},{"pct":80,"model":"DNN","err":6,"cdf":0.3},{"pct":80,"model":"DNN","err":8,"cdf":0.4},{"pct":80,"model":"DNN","err":9.4,"cdf":0.47},{"pct":80,"model":"DNN","err":10.4,"cdf":0.57},{"pct":80,"model":"DNN","err":11.7,"cdf":0.63},{"pct":80,"model":"DNN","err":12.4,"cdf":0.678},{"pct":80,"model":"DNN","err":13.4,"cdf":0.725},{"pct":80,"model":"DNN","err":14,"cdf":0.765},{"pct":80,"model":"DNN","err":15,"cdf":0.79},{"pct":80,"model":"DNN","err":16,"cdf":0.82},{"pct":80,"model":"DNN","err":17,"cdf":0.85},{"pct":80,"model":"DNN","err":20.3,"cdf":0.86},{"pct":80,"model":"DNN","err":23,"cdf":0.867},{"pct":80,"model":"DNN","err":23.7,"cdf":0.885},{"pct":80,"model":"DNN","err":24.7,"cdf":0.915},{"pct":80,"model":"DNN","err":27.3,"cdf":0.935},{"pct":80,"model":"DNN","err":29.3,"cdf":0.95},{"pct":80,"model":"DNN","err":30,"cdf":0.96},{"pct":80,"model":"DNN","err":34.95,"cdf":0.962},

      {"pct":90,"model":"kNN","err":0,"cdf":0},{"pct":90,"model":"kNN","err":0.01,"cdf":0.046},{"pct":90,"model":"kNN","err":1,"cdf":0.065},{"pct":90,"model":"kNN","err":2.1,"cdf":0.1},{"pct":90,"model":"kNN","err":3.3,"cdf":0.255},{"pct":90,"model":"kNN","err":4.3,"cdf":0.28},{"pct":90,"model":"kNN","err":5,"cdf":0.31},{"pct":90,"model":"kNN","err":5.6,"cdf":0.36},{"pct":90,"model":"kNN","err":6.6,"cdf":0.42},{"pct":90,"model":"kNN","err":7.6,"cdf":0.48},{"pct":90,"model":"kNN","err":8.6,"cdf":0.56},{"pct":90,"model":"kNN","err":9.2,"cdf":0.6},{"pct":90,"model":"kNN","err":9.7,"cdf":0.62},{"pct":90,"model":"kNN","err":10.2,"cdf":0.675},{"pct":90,"model":"kNN","err":11.1,"cdf":0.69},{"pct":90,"model":"kNN","err":11.6,"cdf":0.74},{"pct":90,"model":"kNN","err":12.4,"cdf":0.78},{"pct":90,"model":"kNN","err":12.9,"cdf":0.84},{"pct":90,"model":"kNN","err":13.9,"cdf":0.86},{"pct":90,"model":"kNN","err":15,"cdf":0.885},{"pct":90,"model":"kNN","err":16.8,"cdf":0.9},{"pct":90,"model":"kNN","err":17.5,"cdf":0.92},{"pct":90,"model":"kNN","err":19.5,"cdf":0.935},{"pct":90,"model":"kNN","err":22.1,"cdf":0.95},{"pct":90,"model":"kNN","err":23.4,"cdf":0.962},{"pct":90,"model":"kNN","err":24.5,"cdf":0.975},{"pct":90,"model":"kNN","err":34.95,"cdf":0.977},
      {"pct":90,"model":"SVR","err":1,"cdf":0},{"pct":90,"model":"SVR","err":1.5,"cdf":0.027},{"pct":90,"model":"SVR","err":2.6,"cdf":0.065},{"pct":90,"model":"SVR","err":4,"cdf":0.1},{"pct":90,"model":"SVR","err":4.6,"cdf":0.14},{"pct":90,"model":"SVR","err":5.1,"cdf":0.18},{"pct":90,"model":"SVR","err":6.1,"cdf":0.236},{"pct":90,"model":"SVR","err":7.1,"cdf":0.293},{"pct":90,"model":"SVR","err":7.8,"cdf":0.35},{"pct":90,"model":"SVR","err":8.6,"cdf":0.436},{"pct":90,"model":"SVR","err":9.7,"cdf":0.465},{"pct":90,"model":"SVR","err":10.6,"cdf":0.5},{"pct":90,"model":"SVR","err":11.1,"cdf":0.55},{"pct":90,"model":"SVR","err":11.7,"cdf":0.6},{"pct":90,"model":"SVR","err":12.4,"cdf":0.636},{"pct":90,"model":"SVR","err":13.2,"cdf":0.674},{"pct":90,"model":"SVR","err":14.2,"cdf":0.71},{"pct":90,"model":"SVR","err":15,"cdf":0.74},{"pct":90,"model":"SVR","err":15.8,"cdf":0.77},{"pct":90,"model":"SVR","err":16.5,"cdf":0.784},{"pct":90,"model":"SVR","err":19.1,"cdf":0.8},{"pct":90,"model":"SVR","err":19.5,"cdf":0.827},{"pct":90,"model":"SVR","err":20,"cdf":0.865},{"pct":90,"model":"SVR","err":21.5,"cdf":0.884},{"pct":90,"model":"SVR","err":22.4,"cdf":0.9},{"pct":90,"model":"SVR","err":23.1,"cdf":0.93},{"pct":90,"model":"SVR","err":23.4,"cdf":0.95},{"pct":90,"model":"SVR","err":24.8,"cdf":0.96},{"pct":90,"model":"SVR","err":28.7,"cdf":0.974},{"pct":90,"model":"SVR","err":33.3,"cdf":1},
      {"pct":90,"model":"XGBoost","err":0,"cdf":0},{"pct":90,"model":"XGBoost","err":0.01,"cdf":0.027},{"pct":90,"model":"XGBoost","err":1,"cdf":0.065},{"pct":90,"model":"XGBoost","err":2.1,"cdf":0.1},{"pct":90,"model":"XGBoost","err":3.3,"cdf":0.146},{"pct":90,"model":"XGBoost","err":4.8,"cdf":0.2},{"pct":90,"model":"XGBoost","err":5.4,"cdf":0.245},{"pct":90,"model":"XGBoost","err":6.6,"cdf":0.265},{"pct":90,"model":"XGBoost","err":6.9,"cdf":0.35},{"pct":90,"model":"XGBoost","err":7.6,"cdf":0.436},{"pct":90,"model":"XGBoost","err":8.4,"cdf":0.465},{"pct":90,"model":"XGBoost","err":9.2,"cdf":0.49},{"pct":90,"model":"XGBoost","err":10.1,"cdf":0.53},{"pct":90,"model":"XGBoost","err":10.9,"cdf":0.58},{"pct":90,"model":"XGBoost","err":11.6,"cdf":0.617},{"pct":90,"model":"XGBoost","err":12,"cdf":0.693},{"pct":90,"model":"XGBoost","err":13.2,"cdf":0.71},{"pct":90,"model":"XGBoost","err":14.2,"cdf":0.77},{"pct":90,"model":"XGBoost","err":14.9,"cdf":0.8},{"pct":90,"model":"XGBoost","err":15.5,"cdf":0.855},{"pct":90,"model":"XGBoost","err":16.5,"cdf":0.874},{"pct":90,"model":"XGBoost","err":17.5,"cdf":0.912},{"pct":90,"model":"XGBoost","err":18.5,"cdf":0.94},{"pct":90,"model":"XGBoost","err":19.3,"cdf":0.974},{"pct":90,"model":"XGBoost","err":25.7,"cdf":0.984},{"pct":90,"model":"XGBoost","err":34.7,"cdf":0.99},{"pct":90,"model":"XGBoost","err":34.95,"cdf":1},
      {"pct":90,"model":"DNN","err":1,"cdf":0},{"pct":90,"model":"DNN","err":1.3,"cdf":0.027},{"pct":90,"model":"DNN","err":2,"cdf":0.074},{"pct":90,"model":"DNN","err":4,"cdf":0.1},{"pct":90,"model":"DNN","err":4.6,"cdf":0.13},{"pct":90,"model":"DNN","err":5.3,"cdf":0.16},{"pct":90,"model":"DNN","err":6.3,"cdf":0.19},{"pct":90,"model":"DNN","err":7.3,"cdf":0.236},{"pct":90,"model":"DNN","err":8.6,"cdf":0.274},{"pct":90,"model":"DNN","err":9.6,"cdf":0.33},{"pct":90,"model":"DNN","err":10.6,"cdf":0.36},{"pct":90,"model":"DNN","err":11.2,"cdf":0.41},{"pct":90,"model":"DNN","err":11.9,"cdf":0.446},{"pct":90,"model":"DNN","err":12.9,"cdf":0.51},{"pct":90,"model":"DNN","err":13.9,"cdf":0.55},{"pct":90,"model":"DNN","err":15,"cdf":0.6},{"pct":90,"model":"DNN","err":16.2,"cdf":0.617},{"pct":90,"model":"DNN","err":16.5,"cdf":0.655},{"pct":90,"model":"DNN","err":17.8,"cdf":0.684},{"pct":90,"model":"DNN","err":18.8,"cdf":0.71},{"pct":90,"model":"DNN","err":19.5,"cdf":0.74},{"pct":90,"model":"DNN","err":20.5,"cdf":0.77},{"pct":90,"model":"DNN","err":21.5,"cdf":0.8},{"pct":90,"model":"DNN","err":22.8,"cdf":0.817},{"pct":90,"model":"DNN","err":23.8,"cdf":0.836},{"pct":90,"model":"DNN","err":25.1,"cdf":0.865},{"pct":90,"model":"DNN","err":26.7,"cdf":0.893},{"pct":90,"model":"DNN","err":30.4,"cdf":0.903},{"pct":90,"model":"DNN","err":31.4,"cdf":0.92},{"pct":90,"model":"DNN","err":32.7,"cdf":0.94},{"pct":90,"model":"DNN","err":33.5,"cdf":0.955},{"pct":90,"model":"DNN","err":34.95,"cdf":0.957},

      {"pct":0,"model":"kNN","mean":2.50},{"pct":0,"model":"SVR","mean":6.62},{"pct":0,"model":"XGBoost","mean":1.66},{"pct":0,"model":"DNN","mean":3.84},
      {"pct":10,"model":"kNN","mean":2.69},{"pct":10,"model":"SVR","mean":6.77},{"pct":10,"model":"XGBoost","mean":2.33},{"pct":10,"model":"DNN","mean":4.33},
      {"pct":20,"model":"kNN","mean":2.92},{"pct":20,"model":"SVR","mean":6.97},{"pct":20,"model":"XGBoost","mean":2.78},{"pct":20,"model":"DNN","mean":4.42},
      {"pct":30,"model":"kNN","mean":4.42},{"pct":30,"model":"SVR","mean":7.13},{"pct":30,"model":"XGBoost","mean":3.53},{"pct":30,"model":"DNN","mean":4.91},
      {"pct":40,"model":"kNN","mean":4.89},{"pct":40,"model":"SVR","mean":7.07},{"pct":40,"model":"XGBoost","mean":3.83},{"pct":40,"model":"DNN","mean":7.81},
      {"pct":50,"model":"kNN","mean":4.91},{"pct":50,"model":"SVR","mean":7.11},{"pct":50,"model":"XGBoost","mean":4.30},{"pct":50,"model":"DNN","mean":5.74},
      {"pct":60,"model":"kNN","mean":4.65},{"pct":60,"model":"SVR","mean":7.55},{"pct":60,"model":"XGBoost","mean":5.57},{"pct":60,"model":"DNN","mean":6.66},
      {"pct":70,"model":"kNN","mean":5.93},{"pct":70,"model":"SVR","mean":8.60},{"pct":70,"model":"XGBoost","mean":7.13},{"pct":70,"model":"DNN","mean":10.58},
      {"pct":80,"model":"kNN","mean":7.02},{"pct":80,"model":"SVR","mean":8.55},{"pct":80,"model":"XGBoost","mean":7.23},{"pct":80,"model":"DNN","mean":11.51},
      {"pct":90,"model":"kNN","mean":9.03},{"pct":90,"model":"SVR","mean":11.59},{"pct":90,"model":"XGBoost","mean":9.96},{"pct":90,"model":"DNN","mean":15.04}
    ]
  },
  "transform": [{"calculate": "datum.pct + '% omitted'", "as": "panel"}],
  "facet": {
    "field": "panel",
    "type": "nominal",
    "sort": {"field": "pct", "op": "min"},
    "title": null
  },
  "columns": 5,
  "spacing": {"column": 20, "row": 28},
  "spec": {
    "width": 352,
    "height": 359,
    "layer": [
      {
        "transform": [{"filter": "datum.mean != null"}],
        "mark": {"type": "rule", "strokeDash": [6, 4], "strokeWidth": 1.8, "opacity": 0.9},
        "encoding": {
          "x": {"field": "mean", "type": "quantitative", "title": "Localization error (m)", "scale": {"domain": [0, 35], "nice": false}},
          "color": {
            "field": "model", "type": "nominal",
            "scale": {"domain": ["kNN", "SVR", "XGBoost", "DNN"], "range": ["#0072B2", "#A0522D", "#009E73", "#E69F00"]},
            "legend": {"title": null, "orient": "none", "direction": "horizontal", "legendX": 614, "legendY": -70, "symbolType": "stroke", "symbolSize": 1936, "symbolStrokeWidth": 4, "labelFontSize": 19, "labelOffset": 14, "columnPadding": 27, "labelColor": "black"}
          }
        }
      },
      {
        "transform": [{"filter": "datum.err != null"}],
        "mark": {"type": "line", "interpolate": "step-after", "strokeWidth": 3.2, "clip": true},
        "encoding": {
          "x": {"field": "err", "type": "quantitative", "title": "Localization error (m)", "scale": {"domain": [0, 35], "nice": false}, "axis": {"values": [0, 5, 10, 15, 20, 25, 30, 35], "labelFlush": false, "grid": true}},
          "y": {"field": "cdf", "type": "quantitative", "title": "Empirical CDF", "scale": {"domain": [0, 1.02], "nice": false}, "axis": {"values": [0, 0.2, 0.4, 0.6, 0.8, 1], "format": ".1f", "labelFlush": false, "grid": true}},
          "color": {
            "field": "model", "type": "nominal",
            "scale": {"domain": ["kNN", "SVR", "XGBoost", "DNN"], "range": ["#0072B2", "#A0522D", "#009E73", "#E69F00"]},
            "legend": {"title": null, "orient": "none", "direction": "horizontal", "legendX": 614, "legendY": -70, "symbolType": "stroke", "symbolSize": 1936, "symbolStrokeWidth": 4, "labelFontSize": 19, "labelOffset": 14, "columnPadding": 27, "labelColor": "black"}
          }
        }
      },
      {
        "transform": [
          {"filter": "datum.mean != null"},
          {"calculate": "datum.mean + 0.55", "as": "ax"},
          {"calculate": "datum.model === 'DNN' ? 0.62 : datum.model === 'XGBoost' ? 0.46 : datum.model === 'SVR' ? 0.3 : 0.14", "as": "lv"}
        ],
        "layer": [
          {
            "mark": {"type": "rule", "strokeWidth": 1.5},
            "encoding": {
              "x": {"field": "ax", "type": "quantitative", "title": "Localization error (m)"},
              "x2": {"datum": 27.1},
              "y": {"field": "lv", "type": "quantitative", "title": "Empirical CDF"},
              "color": {
                "field": "model", "type": "nominal",
                "scale": {"domain": ["kNN", "SVR", "XGBoost", "DNN"], "range": ["#0072B2", "#A0522D", "#009E73", "#E69F00"]},
                "legend": {"title": null, "orient": "none", "direction": "horizontal", "legendX": 614, "legendY": -70, "symbolType": "stroke", "symbolSize": 1936, "symbolStrokeWidth": 4, "labelFontSize": 19, "labelOffset": 14, "columnPadding": 27, "labelColor": "black"}
              }
            }
          },
          {
            "mark": {"type": "point", "shape": "M 1 -0.55 L 0 0 L 1 0.55", "size": 196, "filled": false, "strokeWidth": 1.6, "opacity": 1},
            "encoding": {
              "x": {"field": "ax", "type": "quantitative", "title": "Localization error (m)"},
              "y": {"field": "lv", "type": "quantitative", "title": "Empirical CDF"},
              "color": {
                "field": "model", "type": "nominal",
                "scale": {"domain": ["kNN", "SVR", "XGBoost", "DNN"], "range": ["#0072B2", "#A0522D", "#009E73", "#E69F00"]},
                "legend": {"title": null, "orient": "none", "direction": "horizontal", "legendX": 614, "legendY": -70, "symbolType": "stroke", "symbolSize": 1936, "symbolStrokeWidth": 4, "labelFontSize": 19, "labelOffset": 14, "columnPadding": 27, "labelColor": "black"}
              }
            }
          },
          {
            "mark": {"type": "text", "align": "left", "baseline": "middle", "fontSize": 17.5, "fontWeight": "bold"},
            "encoding": {
              "x": {"datum": 27.6},
              "y": {"field": "lv", "type": "quantitative", "title": "Empirical CDF"},
              "text": {"field": "mean", "type": "quantitative", "format": ".2f"},
              "color": {
                "field": "model", "type": "nominal",
                "scale": {"domain": ["kNN", "SVR", "XGBoost", "DNN"], "range": ["#0072B2", "#A0522D", "#009E73", "#E69F00"]},
                "legend": {"title": null, "orient": "none", "direction": "horizontal", "legendX": 614, "legendY": -70, "symbolType": "stroke", "symbolSize": 1936, "symbolStrokeWidth": 4, "labelFontSize": 19, "labelOffset": 14, "columnPadding": 27, "labelColor": "black"}
              }
            }
          }
        ]
      }
    ]
  },
  "config": {
    "font": "DejaVu Sans",
    "view": {"stroke": "black", "strokeWidth": 1.3},
    "axis": {"labelFontSize": 18, "titleFontSize": 18, "titleFontWeight": "normal", "labelColor": "black", "titleColor": "black", "tickColor": "black", "tickSize": 7, "tickWidth": 1.2, "domain": false, "gridColor": "#ebebeb", "labelPadding": 3},
    "axisX": {"titlePadding": 10},
    "axisY": {"titlePadding": 12},
    "header": {"labelFontSize": 21, "labelColor": "black", "labelPadding": 10}
  }
}
